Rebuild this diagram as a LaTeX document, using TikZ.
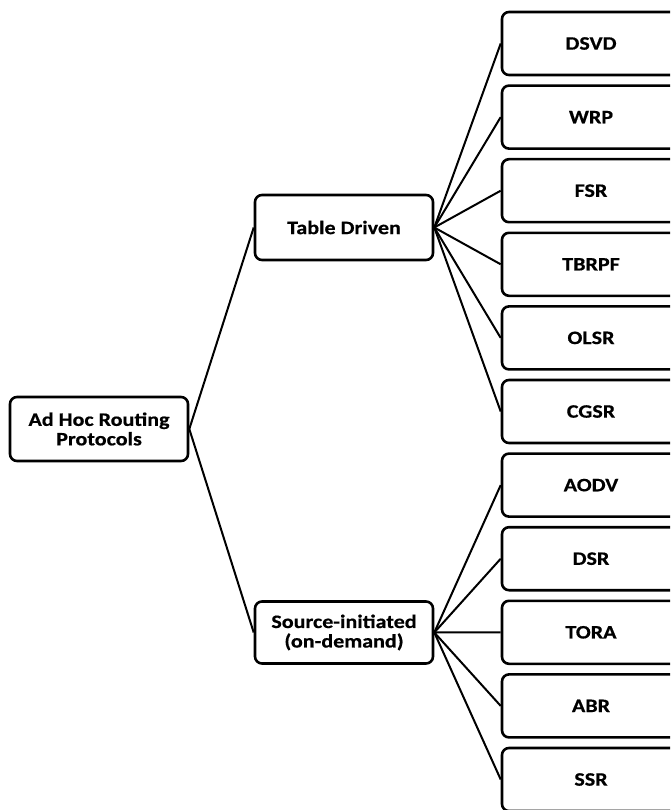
\documentclass[tikz,border=0pt]{standalone}
\usepackage{fontspec}
\setmainfont{Carlito}[FakeStretch=1.16, FakeBold=0.6]

\begin{document}
\begin{tikzpicture}[x=1pt, y=-1pt,
    box/.style={draw=black, line width=2.6pt, rounded corners=7pt, fill=white,
                minimum width=178pt, inner sep=0pt, align=center,
                font=\fontsize{19}{19.5}\selectfont\bfseries},
    link/.style={black, line width=2pt}]
    \clip (0, 0) rectangle (670, 810);

    % root and the two branches
    \node[box, minimum height=64pt] (root) at (99, 429) {Ad Hoc Routing\\Protocols};
    \node[box, minimum height=65pt] (table) at (344, 227.5) {Table Driven};
    \node[box, minimum height=62pt] (source) at (344, 632.5) {Source-initiated\\(on-demand)};

    % leaves
    \node[box, minimum height=63pt] (dsvd) at (591, 43.5) {DSVD};
    \node[box, minimum height=63pt] (wrp) at (591, 117.1) {WRP};
    \node[box, minimum height=63pt] (fsr) at (591, 190.7) {FSR};
    \node[box, minimum height=63pt] (tbrpf) at (591, 264.3) {TBRPF};
    \node[box, minimum height=63pt] (olsr) at (591, 337.9) {OLSR};
    \node[box, minimum height=63pt] (cgsr) at (591, 411.5) {CGSR};
    \node[box, minimum height=63pt] (aodv) at (591, 485.1) {AODV};
    \node[box, minimum height=63pt] (dsr) at (591, 558.7) {DSR};
    \node[box, minimum height=63pt] (tora) at (591, 632.3) {TORA};
    \node[box, minimum height=63pt] (abr) at (591, 705.9) {ABR};
    \node[box, minimum height=63pt] (ssr) at (591, 779.5) {SSR};

    \draw[link] (root.east) -- (table.west);
    \draw[link] (root.east) -- (source.west);

    \draw[link] (table.east) -- (dsvd.west);
    \draw[link] (table.east) -- (wrp.west);
    \draw[link] (table.east) -- (fsr.west);
    \draw[link] (table.east) -- (tbrpf.west);
    \draw[link] (table.east) -- (olsr.west);
    \draw[link] (table.east) -- (cgsr.west);

    \draw[link] (source.east) -- (aodv.west);
    \draw[link] (source.east) -- (dsr.west);
    \draw[link] (source.east) -- (tora.west);
    \draw[link] (source.east) -- (abr.west);
    \draw[link] (source.east) -- (ssr.west);
\end{tikzpicture}
\end{document}
